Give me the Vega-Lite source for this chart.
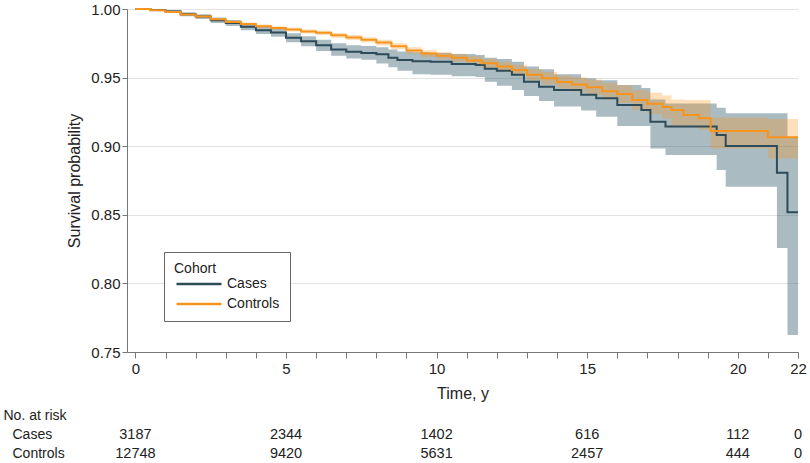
{
  "$schema": "https://vega.github.io/schema/vega-lite/v6.json",
  "padding": {"left": 3, "top": 2, "right": 0, "bottom": 0},
  "background": "white",
  "config": {
    "font": "Liberation Sans",
    "view": {"stroke": null},
    "axis": {"labelColor": "#222", "titleColor": "#222", "titleFontWeight": "normal", "labelOverlap": false}
  },
  "datasets": {
    "km": [
      {"cohort": "Cases", "t": 0, "s": 1, "lo": 1, "hi": 1},
      {"cohort": "Cases", "t": 0.5, "s": 0.9992, "lo": 0.9984, "hi": 0.9998},
      {"cohort": "Cases", "t": 1, "s": 0.9982, "lo": 0.997, "hi": 0.9992},
      {"cohort": "Cases", "t": 1.5, "s": 0.9962, "lo": 0.9948, "hi": 0.9976},
      {"cohort": "Cases", "t": 2, "s": 0.9945, "lo": 0.9928, "hi": 0.9962},
      {"cohort": "Cases", "t": 2.5, "s": 0.9918, "lo": 0.9898, "hi": 0.9938},
      {"cohort": "Cases", "t": 3, "s": 0.9898, "lo": 0.9876, "hi": 0.992},
      {"cohort": "Cases", "t": 3.5, "s": 0.987, "lo": 0.9845, "hi": 0.9895},
      {"cohort": "Cases", "t": 4, "s": 0.9845, "lo": 0.9818, "hi": 0.9872},
      {"cohort": "Cases", "t": 4.5, "s": 0.9828, "lo": 0.9798, "hi": 0.9858},
      {"cohort": "Cases", "t": 5, "s": 0.979, "lo": 0.9757, "hi": 0.9823},
      {"cohort": "Cases", "t": 5.5, "s": 0.9765, "lo": 0.9728, "hi": 0.9802},
      {"cohort": "Cases", "t": 6, "s": 0.9735, "lo": 0.9694, "hi": 0.9776},
      {"cohort": "Cases", "t": 6.5, "s": 0.9705, "lo": 0.966, "hi": 0.975},
      {"cohort": "Cases", "t": 7, "s": 0.9688, "lo": 0.964, "hi": 0.9736},
      {"cohort": "Cases", "t": 7.5, "s": 0.968, "lo": 0.963, "hi": 0.973},
      {"cohort": "Cases", "t": 8, "s": 0.967, "lo": 0.9602, "hi": 0.9722},
      {"cohort": "Cases", "t": 8.4, "s": 0.9645, "lo": 0.9575, "hi": 0.9705},
      {"cohort": "Cases", "t": 8.7, "s": 0.9628, "lo": 0.955, "hi": 0.969},
      {"cohort": "Cases", "t": 9.2, "s": 0.962, "lo": 0.9525, "hi": 0.9684},
      {"cohort": "Cases", "t": 9.8, "s": 0.9616, "lo": 0.952, "hi": 0.968},
      {"cohort": "Cases", "t": 10.5, "s": 0.96, "lo": 0.951, "hi": 0.9672},
      {"cohort": "Cases", "t": 11.3, "s": 0.9592, "lo": 0.9505, "hi": 0.9665},
      {"cohort": "Cases", "t": 11.6, "s": 0.9565, "lo": 0.947, "hi": 0.9645},
      {"cohort": "Cases", "t": 12, "s": 0.955, "lo": 0.944, "hi": 0.9635},
      {"cohort": "Cases", "t": 12.5, "s": 0.952, "lo": 0.941, "hi": 0.9616},
      {"cohort": "Cases", "t": 12.9, "s": 0.947, "lo": 0.9365, "hi": 0.958},
      {"cohort": "Cases", "t": 13.4, "s": 0.9434, "lo": 0.933, "hi": 0.956},
      {"cohort": "Cases", "t": 13.9, "s": 0.941, "lo": 0.929, "hi": 0.9525},
      {"cohort": "Cases", "t": 14.8, "s": 0.9375, "lo": 0.926, "hi": 0.9495},
      {"cohort": "Cases", "t": 15.3, "s": 0.9349, "lo": 0.9215, "hi": 0.948},
      {"cohort": "Cases", "t": 16, "s": 0.93, "lo": 0.9147, "hi": 0.9446},
      {"cohort": "Cases", "t": 16.8, "s": 0.9264, "lo": 0.9147, "hi": 0.9424},
      {"cohort": "Cases", "t": 17.1, "s": 0.9178, "lo": 0.8984, "hi": 0.934},
      {"cohort": "Cases", "t": 17.6, "s": 0.9143, "lo": 0.8936, "hi": 0.9312},
      {"cohort": "Cases", "t": 19.3, "s": 0.9082, "lo": 0.8826, "hi": 0.928},
      {"cohort": "Cases", "t": 19.6, "s": 0.9001, "lo": 0.8705, "hi": 0.924},
      {"cohort": "Cases", "t": 21.3, "s": 0.8807, "lo": 0.8258, "hi": 0.924},
      {"cohort": "Cases", "t": 21.65, "s": 0.8518, "lo": 0.7623, "hi": 0.9069},
      {"cohort": "Cases", "t": 22, "s": 0.8518, "lo": 0.7623, "hi": 0.9069},
      {"cohort": "Controls", "t": 0, "s": 1, "lo": 1, "hi": 1},
      {"cohort": "Controls", "t": 0.5, "s": 0.999, "lo": 0.9986, "hi": 0.9994},
      {"cohort": "Controls", "t": 1, "s": 0.9978, "lo": 0.9972, "hi": 0.9984},
      {"cohort": "Controls", "t": 1.5, "s": 0.996, "lo": 0.9953, "hi": 0.9967},
      {"cohort": "Controls", "t": 2, "s": 0.9945, "lo": 0.9937, "hi": 0.9953},
      {"cohort": "Controls", "t": 2.5, "s": 0.9925, "lo": 0.9916, "hi": 0.9934},
      {"cohort": "Controls", "t": 3, "s": 0.9905, "lo": 0.9895, "hi": 0.9915},
      {"cohort": "Controls", "t": 3.5, "s": 0.989, "lo": 0.9879, "hi": 0.9901},
      {"cohort": "Controls", "t": 4, "s": 0.9875, "lo": 0.9863, "hi": 0.9887},
      {"cohort": "Controls", "t": 4.5, "s": 0.9862, "lo": 0.9849, "hi": 0.9875},
      {"cohort": "Controls", "t": 5, "s": 0.985, "lo": 0.9836, "hi": 0.9864},
      {"cohort": "Controls", "t": 5.5, "s": 0.9836, "lo": 0.9821, "hi": 0.9851},
      {"cohort": "Controls", "t": 6, "s": 0.9826, "lo": 0.981, "hi": 0.9842},
      {"cohort": "Controls", "t": 6.5, "s": 0.9808, "lo": 0.9791, "hi": 0.9825},
      {"cohort": "Controls", "t": 7, "s": 0.9792, "lo": 0.9774, "hi": 0.981},
      {"cohort": "Controls", "t": 7.5, "s": 0.9775, "lo": 0.9756, "hi": 0.9794},
      {"cohort": "Controls", "t": 8, "s": 0.9755, "lo": 0.9734, "hi": 0.9776},
      {"cohort": "Controls", "t": 8.5, "s": 0.9728, "lo": 0.9706, "hi": 0.975},
      {"cohort": "Controls", "t": 9, "s": 0.9698, "lo": 0.9674, "hi": 0.9722},
      {"cohort": "Controls", "t": 9.5, "s": 0.9675, "lo": 0.965, "hi": 0.97},
      {"cohort": "Controls", "t": 10, "s": 0.966, "lo": 0.9633, "hi": 0.9687},
      {"cohort": "Controls", "t": 10.5, "s": 0.9645, "lo": 0.9616, "hi": 0.9674},
      {"cohort": "Controls", "t": 11, "s": 0.9625, "lo": 0.9594, "hi": 0.9656},
      {"cohort": "Controls", "t": 11.5, "s": 0.9605, "lo": 0.9572, "hi": 0.9638},
      {"cohort": "Controls", "t": 12, "s": 0.958, "lo": 0.9544, "hi": 0.9616},
      {"cohort": "Controls", "t": 12.5, "s": 0.9555, "lo": 0.9516, "hi": 0.9594},
      {"cohort": "Controls", "t": 13, "s": 0.952, "lo": 0.9478, "hi": 0.9562},
      {"cohort": "Controls", "t": 13.5, "s": 0.9495, "lo": 0.945, "hi": 0.954},
      {"cohort": "Controls", "t": 14, "s": 0.9468, "lo": 0.942, "hi": 0.9516},
      {"cohort": "Controls", "t": 14.5, "s": 0.945, "lo": 0.9398, "hi": 0.9502},
      {"cohort": "Controls", "t": 15, "s": 0.943, "lo": 0.9374, "hi": 0.9486},
      {"cohort": "Controls", "t": 15.5, "s": 0.94, "lo": 0.934, "hi": 0.946},
      {"cohort": "Controls", "t": 16, "s": 0.938, "lo": 0.9315, "hi": 0.9445},
      {"cohort": "Controls", "t": 16.5, "s": 0.9337, "lo": 0.9265, "hi": 0.9409},
      {"cohort": "Controls", "t": 17, "s": 0.931, "lo": 0.9235, "hi": 0.939},
      {"cohort": "Controls", "t": 17.5, "s": 0.9285, "lo": 0.92, "hi": 0.937},
      {"cohort": "Controls", "t": 17.8, "s": 0.9264, "lo": 0.9142, "hi": 0.934},
      {"cohort": "Controls", "t": 18.2, "s": 0.9227, "lo": 0.9142, "hi": 0.9337},
      {"cohort": "Controls", "t": 18.7, "s": 0.9203, "lo": 0.912, "hi": 0.9337},
      {"cohort": "Controls", "t": 19.1, "s": 0.911, "lo": 0.8984, "hi": 0.921},
      {"cohort": "Controls", "t": 21, "s": 0.9066, "lo": 0.8911, "hi": 0.9198},
      {"cohort": "Controls", "t": 22, "s": 0.9066, "lo": 0.8911, "hi": 0.9198}
    ],
    "risk": [
      {"row": "Cases", "t": 0, "n": 3187},
      {"row": "Cases", "t": 5, "n": 2344},
      {"row": "Cases", "t": 10, "n": 1402},
      {"row": "Cases", "t": 15, "n": 616},
      {"row": "Cases", "t": 20, "n": 112},
      {"row": "Cases", "t": 22, "n": 0},
      {"row": "Controls", "t": 0, "n": 12748},
      {"row": "Controls", "t": 5, "n": 9420},
      {"row": "Controls", "t": 10, "n": 5631},
      {"row": "Controls", "t": 15, "n": 2457},
      {"row": "Controls", "t": 20, "n": 444},
      {"row": "Controls", "t": 22, "n": 0}
    ]
  },
  "bounds": "flush",
  "spacing": 54,
  "resolve": {"scale": {"x": "independent"}, "axis": {"x": "independent"}, "legend": {"color": "independent"}},
  "vconcat": [
    {
      "width": 671,
      "height": 343,
      "data": {"name": "km"},
      "encoding": {
        "x": {
          "field": "t", "type": "quantitative",
          "scale": {"domain": [-0.28, 22], "nice": false, "zero": false},
          "axis": {
            "values": [0,1,2,3,4,5,6,7,8,9,10,11,12,13,14,15,16,17,18,19,20,21,22],
            "tickCount": 23,
            "labelExpr": "(datum.value % 5 === 0 || datum.value === 22) ? datum.label : ''",
            "labelOverlap": false, "labelFlush": false, "labelBound": false,
            "title": "Time, y", "titleFontSize": 16, "titlePadding": 9,
            "labelFontSize": 15, "labelPadding": 3,
            "grid": false, "tickSize": 6, "tickColor": "#777", "domainColor": "#777"
          }
        }
      },
      "layer": [
        {
          "transform": [{"filter": "datum.cohort === 'Cases'"}],
          "mark": {"type": "area", "interpolate": "step-after", "color": "#2c5466", "opacity": 0.4},
          "encoding": {
            "y": {
              "field": "lo", "type": "quantitative",
              "scale": {"domain": [0.75, 1.0], "nice": false, "zero": false},
              "axis": {
                "values": [0.75, 0.8, 0.85, 0.9, 0.95, 1.0], "format": ".2f",
                "title": "Survival probability", "titleFontSize": 16, "titlePadding": 8,
                "labelFontSize": 15, "labelPadding": 2,
                "grid": true, "gridColor": "#e2e2e2", "tickSize": 5,
                "tickColor": "#777", "domainColor": "#777"
              }
            },
            "y2": {"field": "hi"}
          }
        },
        {
          "transform": [{"filter": "datum.cohort === 'Controls'"}],
          "mark": {"type": "area", "interpolate": "step-after", "color": "#f7941d", "opacity": 0.3},
          "encoding": {
            "y": {"field": "lo", "type": "quantitative"},
            "y2": {"field": "hi"}
          }
        },
        {
          "mark": {"type": "line", "interpolate": "step-after", "strokeWidth": 2},
          "encoding": {
            "y": {"field": "s", "type": "quantitative"},
            "color": {
              "field": "cohort", "type": "nominal",
              "scale": {"domain": ["Cases", "Controls"], "range": ["#2d4b58", "#f7941d"]},
              "legend": {
                "title": "Cohort", "orient": "none", "legendX": 37, "legendY": 243,
                "symbolType": "M-4.5,0H4.5", "symbolSize": 100, "symbolStrokeWidth": 2.5,
                "symbolOffset": 18, "labelOffset": 21,
                "strokeColor": "#666", "fillColor": "white", "padding": 10,
                "titleFontSize": 14, "titleFontWeight": "normal", "titleColor": "#222",
                "labelFontSize": 14, "labelColor": "#222",
                "rowPadding": 6, "titlePadding": 1
              }
            }
          }
        }
      ]
    },
    {
      "width": 671,
      "height": 57,
      "data": {"name": "risk"},
      "mark": {"type": "text", "fontSize": 14.5, "align": "center", "color": "#222"},
      "encoding": {
        "x": {
          "field": "t", "type": "quantitative",
          "scale": {"domain": [-0.28, 22], "nice": false, "zero": false},
          "axis": null
        },
        "y": {
          "field": "row", "type": "nominal",
          "scale": {"domain": ["No. at risk", "Cases", "Controls"]},
          "axis": {
            "title": null, "domain": false, "ticks": false, "grid": false,
            "labelAlign": "left", "labelFontSize": 14, "labelColor": "#222",
            "labelPadding": {"condition": {"test": "datum.value === 'No. at risk'", "value": 124}, "value": 115}
          }
        },
        "text": {"field": "n", "type": "quantitative", "format": "d"}
      }
    }
  ]
}
